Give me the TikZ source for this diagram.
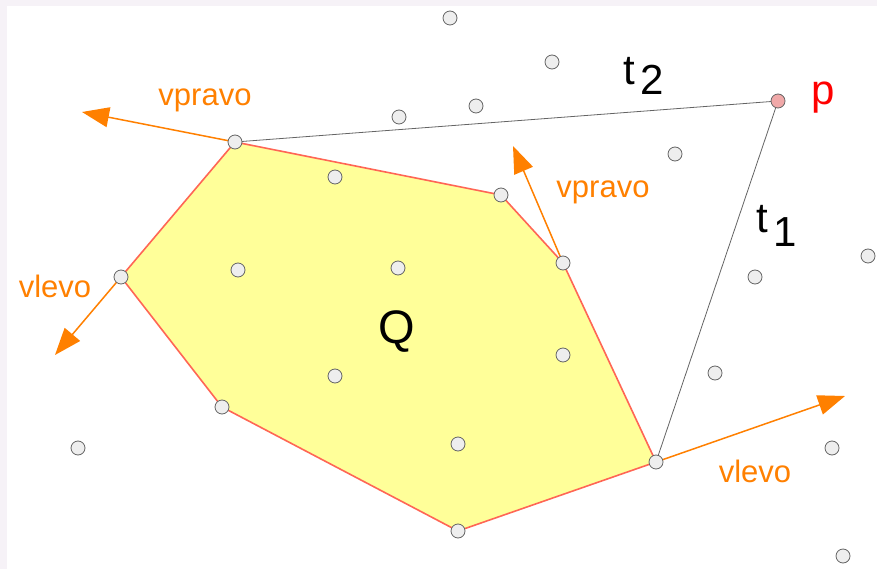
\documentclass[tikz,border=0pt]{standalone}
\usepackage{fontspec}
\setmainfont{Liberation Sans}
\usetikzlibrary{arrows.meta}
\definecolor{HullYellow}{RGB}{255,255,153}
\definecolor{HullRed}{RGB}{255,102,85}
\definecolor{DirOrange}{RGB}{255,128,0}
\definecolor{SiteGray}{RGB}{238,238,238}
\definecolor{EdgeGray}{RGB}{100,100,100}
\definecolor{FrameTint}{RGB}{246,242,247}
\definecolor{ApexPink}{RGB}{240,168,168}
\tikzset{
  site/.style={circle,draw=EdgeGray,fill=SiteGray,line width=0.8pt,inner sep=0pt,minimum size=14pt},
  apex/.style={site,fill=ApexPink},
  hull/.style={fill=HullYellow,draw=HullRed,line width=1.6pt,line join=round},
  tangent/.style={draw=EdgeGray,line width=0.8pt},
  dirarrow/.style={DirOrange,line width=1.5pt,-{Triangle[length=27pt,width=20pt]}},
  dirlabel/.style={text=DirOrange,font=\fontsize{31}{31}\selectfont,anchor=base},
  biglabel/.style={font=\fontsize{42}{42}\selectfont,anchor=base west}
}

\begin{document}
\begin{tikzpicture}[x=1pt,y=-1pt]
  \fill[FrameTint] (0,0) rectangle (877,569);
  \fill[white] (7,6) rectangle (877,569);
  \useasboundingbox (0,0) rectangle (877,569);
  % vertices of Q
  \coordinate (h1) at (235,142);
  \coordinate (h2) at (501,195);
  \coordinate (h3) at (563,263);
  \coordinate (h4) at (656,462);
  \coordinate (h5) at (458,531);
  \coordinate (h6) at (222,407);
  \coordinate (h7) at (121,277);
  \coordinate (p) at (778,101);
  % arrow ends
  \coordinate (h1dir) at (82,112);
  \coordinate (h3dir) at (513,146);
  \coordinate (h7dir) at (55,355);
  \coordinate (h4dir) at (845,396);

  \filldraw[hull] (h1) -- (h2) -- (h3) -- (h4) -- (h5) -- (h6) -- (h7) -- cycle;
  \draw[tangent] (h1) -- (p) -- (h4);
  \draw[dirarrow] (h1) -- (h1dir);
  \draw[dirarrow] (h3) -- (h3dir);
  \draw[dirarrow] (h7) -- (h7dir);
  \draw[dirarrow] (h4) -- (h4dir);

  \foreach \v in {h1,h2,h3,h4,h5,h6,h7}
    \node[site] (\v n) at (\v) {};
  \foreach \x/\y [count=\i] in {450/18,552/62,476/106,399/117,675/154,335/177,
      238/270,398/268,755/277,868/256,563/355,335/376,715/373,78/448,458/444,
      832/448,843/556}
    \node[site] (s\i) at (\x,\y) {};
  \node[apex] (pn) at (p) {};

  \node[dirlabel] (lab1) at (205,106) {vpravo};
  \node[dirlabel] (lab2) at (603,198) {vpravo};
  \node[dirlabel] (lab3) at (55,297) {vlevo};
  \node[dirlabel] (lab4) at (755,482) {vlevo};
  \node[font=\fontsize{47}{47}\selectfont,anchor=base] (q) at (397,343) {Q};
  \node[biglabel,inner sep=0pt] (t2) at (623,85) {t\hspace{6pt}\raisebox{-10pt}{2}};
  \node[biglabel,inner sep=0pt] (t1) at (756,233) {t\hspace{6pt}\raisebox{-14pt}{1}};
  \node[biglabel,inner sep=0pt,text=red] (plab) at (811,105) {p};
\end{tikzpicture}
\end{document}
